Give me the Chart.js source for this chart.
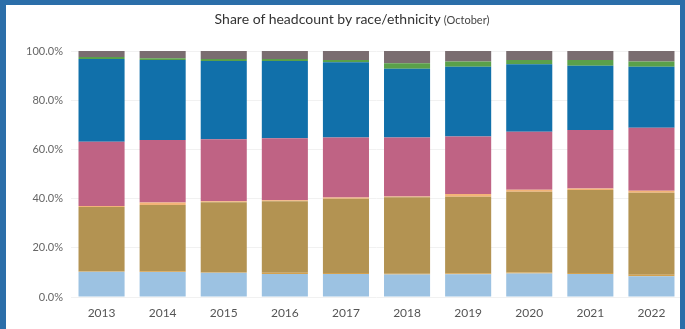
<!DOCTYPE html>
<html lang="en">
<head>
    <meta charset="UTF-8">
    <title>Share of headcount by race/ethnicity</title>
    <style>
        body {
            margin: 0;
            padding: 0;
            background-color: white;
            font-family: Lato, "Open Sans", sans-serif;
        }
        .frame {
            position: relative;
            width: 685px;
            height: 329px;
            overflow: hidden;
        }
        .border {
            position: absolute;
            left: 0;
            top: 0;
            width: 685px;
            height: 329px;
            box-sizing: border-box;
            border-left: 6px solid #2b6ea9;
            border-top: 5px solid #2b6ea9;
            border-right: 5px solid #2b6ea9;
            pointer-events: none;
        }
        .title {
            position: absolute;
            top: 10px;
            left: 0;
            width: 704px;
            text-align: center;
            font-size: 14px;
            color: #333;
        }
        .title small {
            font-size: 11px;
            color: #444;
        }
        canvas {
            position: absolute;
            left: 0;
            top: 0;
        }
    </style>
</head>
<body>
    <div class="frame">
        <canvas id="raceChart" width="685" height="329"></canvas>
        <div class="title">Share of headcount by race/ethnicity <small>(October)</small></div>
        <div class="border"></div>
    </div>

    <script src="https://cdn.jsdelivr.net/npm/chart.js"></script>
    <script>
        // Fiscal years on the x axis
        const years = ['2013', '2014', '2015', '2016', '2017', '2018', '2019', '2020', '2021', '2022'];

        // Share (%) of each group per year, stacked bottom to top
        const lightBlueShare = [10.3, 10.2, 9.9, 9.4, 9.4, 9.1, 9.2, 9.6, 9.4, 8.4];
        const lowOrangeShare = [0.3, 0.3, 0.3, 0.5, 0.4, 0.4, 0.5, 0.4, 0.4, 0.6];
        const tanShare       = [26.0, 26.9, 28.3, 29.0, 30.1, 31.0, 31.1, 32.8, 33.7, 33.4];
        const highOrangeShare= [0.4, 1.0, 0.4, 0.4, 0.5, 0.4, 1.1, 0.8, 0.6, 0.8];
        const pinkShare      = [26.1, 25.4, 25.2, 25.2, 24.4, 23.9, 23.3, 23.6, 23.8, 25.6];
        const blueShare      = [33.6, 32.5, 31.8, 31.4, 30.6, 28.0, 28.4, 27.4, 26.1, 24.8];
        const greenShare     = [0.9, 0.8, 0.8, 0.8, 0.9, 2.2, 2.1, 1.7, 2.3, 2.1];
        const grayShare      = [2.4, 2.9, 3.3, 3.3, 3.7, 5.0, 4.3, 3.7, 3.7, 4.3];

        // Y axis tick values
        const yTicks = [0, 20, 40, 60, 80, 100];

        const series = [
            { data: lightBlueShare, color: '#9cc2e2' },
            { data: lowOrangeShare, color: '#d4a14e' },
            { data: tanShare, color: '#b39352' },
            { data: highOrangeShare, color: '#f3b478' },
            { data: pinkShare, color: '#bf6384' },
            { data: blueShare, color: '#1170aa' },
            { data: greenShare, color: '#5aa04a' },
            { data: grayShare, color: '#7a6d70' }
        ];

        const ctx = document.getElementById('raceChart').getContext('2d');
        new Chart(ctx, {
            type: 'bar',
            data: {
                labels: years,
                datasets: series.map(s => ({
                    data: s.data,
                    backgroundColor: s.color,
                    borderWidth: 0,
                    categoryPercentage: 1,
                    barPercentage: 0.754
                }))
            },
            options: {
                responsive: false,
                animation: false,
                layout: {
                    padding: { top: 51, right: 3, bottom: 0, left: 0 }
                },
                plugins: {
                    legend: { display: false },
                    tooltip: { enabled: false }
                },
                scales: {
                    x: {
                        stacked: true,
                        grid: { display: false, drawTicks: false },
                        border: { display: false },
                        ticks: {
                            padding: 9,
                            color: '#555',
                            font: { family: 'Lato', size: 12 }
                        },
                        afterFit: scale => { scale.height = 32; }
                    },
                    y: {
                        stacked: true,
                        min: 0,
                        max: 100,
                        afterBuildTicks: scale => {
                            scale.ticks = yTicks.map(v => ({ value: v }));
                        },
                        grid: { color: '#f1f1f1', drawTicks: false },
                        border: { display: false },
                        ticks: {
                            padding: 8,
                            color: '#666',
                            font: { family: 'Lato', size: 11 },
                            callback: v => v.toFixed(1) + '%'
                        },
                        afterFit: scale => { scale.width = 71; }
                    }
                }
            }
        });
    </script>
</body>
</html>
